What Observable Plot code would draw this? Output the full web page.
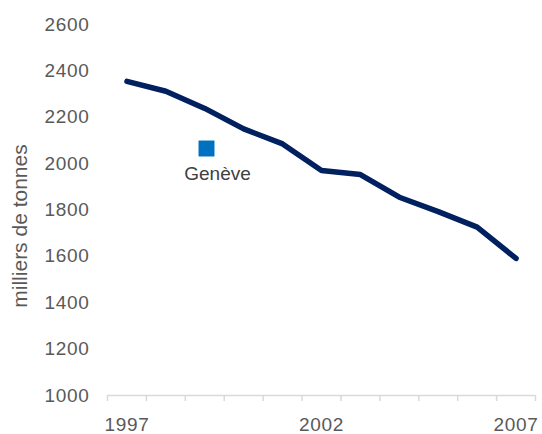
<!DOCTYPE html>
<html>
<head>
<meta charset="utf-8">
<script src="https://cdn.jsdelivr.net/npm/d3@7"></script>
<script src="https://cdn.jsdelivr.net/npm/@observablehq/plot@0.6"></script>
<style>
  html, body { margin: 0; padding: 0; background: #ffffff; }
  #chart svg { display: block; font-family: "Liberation Sans", Arial, sans-serif; }
  #chart svg g[aria-label="x-axis tick label"] text,
  #chart svg g[aria-label="y-axis tick label"] text { letter-spacing: 0.7px; }
</style>
</head>
<body>
<div id="chart"></div>
<script>
// Data
const years = [1997, 1998, 1999, 2000, 2001, 2002, 2003, 2004, 2005, 2006, 2007];
const geneve = [2355, 2312, 2238, 2150, 2085, 1970, 1953, 1855, 1793, 1726, 1591];
const seriesName = "Genève";
const yTicks = [1000, 1200, 1400, 1600, 1800, 2000, 2200, 2400, 2600];
const xTickLabels = [1997, 2002, 2007];
const yTitle = "milliers de tonnes";

const data = years.map((year, i) => ({ year, value: geneve[i] }));
const boundaries = years.map(y => y - 0.5).concat([years[years.length - 1] + 0.5]);

const chart = Plot.plot({
  width: 542,
  height: 434,
  marginLeft: 107,
  marginRight: 7,
  marginTop: 24,
  marginBottom: 39,
  style: { fontFamily: "'Liberation Sans', Arial, sans-serif", background: "#ffffff" },
  x: { type: "linear", domain: [boundaries[0], boundaries[boundaries.length - 1]] },
  y: { domain: [1000, 2600] },
  marks: [
    Plot.ruleY([1000], { stroke: "#d9d9d9", strokeWidth: 1.5 }),
    Plot.axisX({ ticks: boundaries, tickSize: 6, tickFormat: () => "", stroke: "#d9d9d9", strokeWidth: 1.5, label: null }),
    Plot.axisX({ ticks: xTickLabels, tickSize: 0, tickPadding: 22, tickFormat: d => String(d), fontSize: 19, fill: "#595959", label: null }),
    Plot.axisY({ ticks: yTicks, tickSize: 0, tickPadding: 18, tickFormat: d => String(d), fontSize: 19, fill: "#595959", label: null }),
    Plot.text([yTitle], { frameAnchor: "left", text: d => d, rotate: -90, dx: -87, dy: 16, fontSize: 21, fill: "#595959", textAnchor: "middle" }),
    Plot.line(data, { x: "year", y: "value", stroke: "#002060", strokeWidth: 5.5, strokeLinejoin: "round", strokeLinecap: "round" }),
    Plot.dot([seriesName], { frameAnchor: "top-left", dx: 99, dy: 124, symbol: "square", r: 9, fill: "#0070C0", stroke: "none" }),
    Plot.text([seriesName], { frameAnchor: "top-left", text: d => d, dx: 110, dy: 149, fontSize: 19, fill: "#404040", textAnchor: "middle", lineAnchor: "middle" })
  ]
});
document.getElementById("chart").appendChild(chart);
</script>
</body>
</html>
